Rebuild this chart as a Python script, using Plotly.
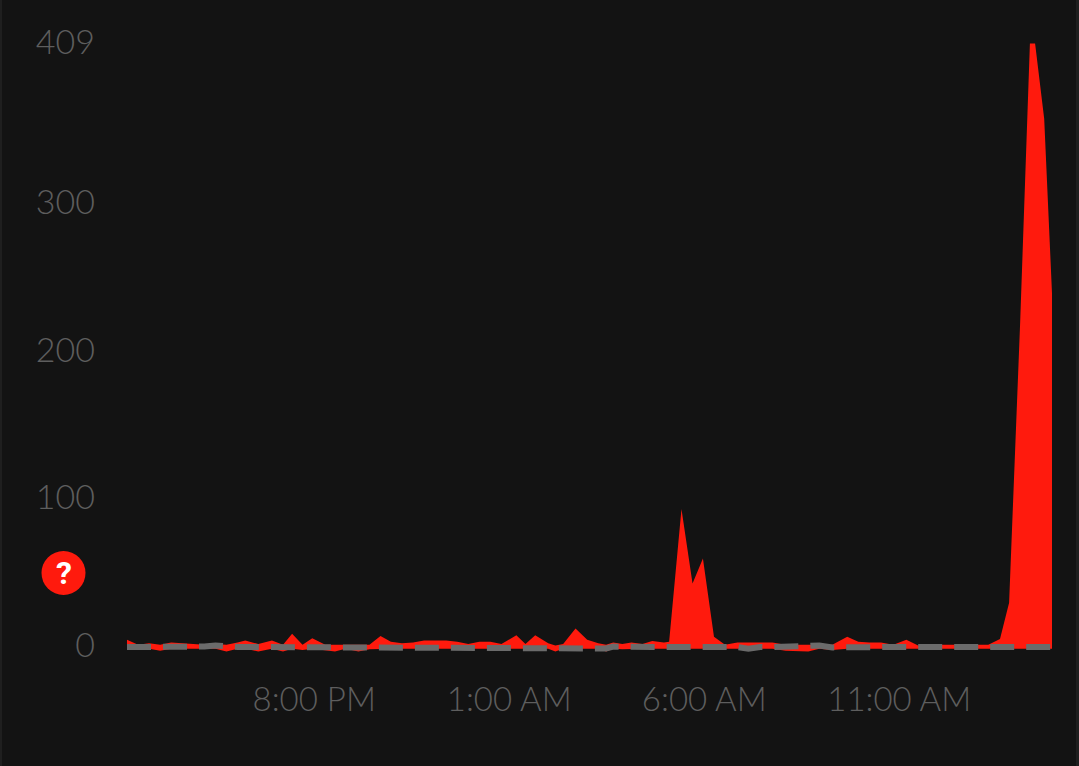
import pandas as pd
import plotly.graph_objects as go

W, H = 1079, 766

# Sample times, in minutes after 3:00 PM on the first day
minutes = [12, 29, 46, 63, 80, 97, 114, 131, 148, 165,
           182, 194, 214, 235, 252, 266, 282, 297, 317, 332,
           348, 368, 385, 402, 418, 435, 452, 469, 486, 503,
           520, 537, 554, 571, 588, 611, 625, 640, 660, 671,
           683, 702, 720, 737, 749, 760, 774, 788, 805, 820,
           838, 846, 865, 882, 898, 915, 932, 951, 968, 986,
           1005, 1025, 1043, 1060, 1077, 1097, 1120, 1137, 1154, 1172,
           1191, 1211, 1229, 1248, 1266, 1283, 1302, 1320, 1337, 1355,
           1369, 1386, 1401, 1409, 1423, 1435]
upper = [5, 1.5, 2.5, 1.5, 3, 2.5, 1.5, 1.5, 2, 1.5,
         3, 4.5, 2, 4.5, 1.5, 9, 1.5, 6, 1.5, 1.5,
         1.5, 1.5, 1.5, 7.5, 3.5, 2.5, 3, 4.5, 4.5, 4.5,
         3.5, 2, 3.5, 3.5, 2, 8, 2, 8, 2.5, 1,
         2, 12.5, 5, 2.5, 1.5, 3, 2, 3, 2, 4,
         3, 3.5, 93.5, 43, 60, 7, 1.5, 3, 3, 3,
         3, 1.5, 1.5, 1.5, 2, 1.5, 7, 3.5, 3, 3,
         1.5, 5, 1, 1.5, 1.5, 1.5, 2, 1.5, 1.5, 5.5,
         30, 220, 409, 409, 358, 240]
lower = [-1.2, -1.2, -1.2, -2.5, -1.2, -1.2, -1.2, -1.2, -1.2, -3,
         -1.2, -1.2, -3, -1.2, -3, -1.2, -2, -1.2, -2.5, -3,
         -1.2, -3, -1.5, -1.2, -1.2, -1.2, -1.2, -1.2, -1.2, -1.2,
         -1.2, -1.2, -1.2, -1.2, -1.2, -1.2, -1.2, -1.2, -1.2, -3,
         -1.2, -1.2, -1.2, -1.2, -3, -1.2, -1.5, -1.2, -1.2, -1.2,
         -1.2, -1.2, -1.2, -1.2, -1.2, -1.2, -1.2, -1.2, -1.2, -1.2,
         -1.2, -2.5, -2.5, -3, -1.2, -2, -1.2, -1.2, -1.2, -1.2,
         -1.2, -1.2, -1.5, -1.2, -1.2, -1.2, -1.2, -1.2, -1.2, -1.2,
         -1.2, -1.2, -1.2, -1.2, -1.2, -1.2]
baseline = [0, 0, 0, 0, 0, 0, -0.3, 0.3, 1, 0,
            0, 0, 0, 0, 0, 0, 0, 0, 0, 0,
            0, 0, 0, 0, 0, 0, 0, 0, 0, 0,
            0, 0, 0, 0, 0, 0, 0, 0, 0, 0,
            0, 0, 0, 0, -1, 0.3, 0, 0, 0, 0,
            0, 0, 0, 0, 0, 0, 0, 0, -1.2, 0,
            0, 0, 0, 0, 1, -0.3, 0, 0, 0, 0,
            0, 0, 0, 0, 0, 0, 0, 0, 0, 0,
            0, 0, 0, 0, 0, 0]

y_ticks = [0, 100, 200, 300, 409]
x_tick_times = ["2024-01-01 20:00", "2024-01-02 01:00", "2024-01-02 06:00", "2024-01-02 11:00"]
x_tick_labels = ["8:00 PM", "1:00 AM", "6:00 AM", "11:00 AM"]

times = pd.Timestamp("2024-01-01 15:00") + pd.to_timedelta(minutes, unit="min")

RED = "#ff1a0d"
GREY = "#6b6b6b"
BG = "#131313"
EDGE = "#1f1f1f"
TEXT = "#5e5e5e"
X_FONT = dict(family="Lato Light, Lato, sans-serif", size=33, color=TEXT, weight=300)
Y_FONT = dict(family="Lato Light, Lato, sans-serif", size=34, color=TEXT, weight=300)

fig = go.Figure()
fig.add_trace(go.Scatter(x=times, y=lower, mode="lines", line=dict(width=0, color=RED),
                         hoverinfo="skip", showlegend=False))
fig.add_trace(go.Scatter(x=times, y=upper, mode="lines", line=dict(width=0, color=RED),
                         fill="tonexty", fillcolor=RED, showlegend=False))
fig.add_trace(go.Scatter(x=times, y=baseline, mode="lines",
                         line=dict(width=6, color=GREY, dash="24px,12px"), showlegend=False))

left, right, top, bottom = 127, 1052, 20, 660
fig.update_layout(
    width=W, height=H,
    margin=dict(l=0, r=0, t=0, b=0, autoexpand=False),
    paper_bgcolor=BG, plot_bgcolor=BG,
    xaxis=dict(
        domain=[left / W, right / W],
        range=[times[0], times[-1]],
        tickmode="array", tickvals=x_tick_times, ticktext=x_tick_labels,
        showgrid=False, zeroline=False, showline=False, ticks="",
        tickfont=X_FONT, ticklabelstandoff=17,
    ),
    yaxis=dict(
        domain=[1 - bottom / H, 1 - top / H],
        range=[-8.8, 425],
        tickmode="array", tickvals=y_ticks,
        showgrid=False, zeroline=False, showline=False, ticks="",
        tickfont=Y_FONT, ticklabelstandoff=31, ticklabelshift=-2,
    ),
    shapes=[
        dict(type="rect", xref="paper", yref="paper", x0=0, x1=2 / W, y0=0, y1=1,
             fillcolor=EDGE, line_width=0),
        dict(type="rect", xref="paper", yref="paper", x0=1076 / W, x1=1, y0=0, y1=1,
             fillcolor=EDGE, line_width=0),
        dict(type="circle", xref="paper", yref="paper",
             x0=41.5 / W, x1=85.5 / W, y0=1 - 595 / H, y1=1 - 551 / H,
             fillcolor=RED, line_width=0),
    ],
    annotations=[
        dict(xref="paper", yref="paper", x=63.5 / W, y=1 - 573 / H, text="<b>?</b>",
             showarrow=False, xanchor="center", yanchor="middle",
             font=dict(family="Roboto, sans-serif", size=32, color="#ffffff")),
    ],
)

fig.write_html("out.html", config=dict(displayModeBar=False),
               post_script="document.body.style.margin='0';document.body.style.background='%s';" % BG)
